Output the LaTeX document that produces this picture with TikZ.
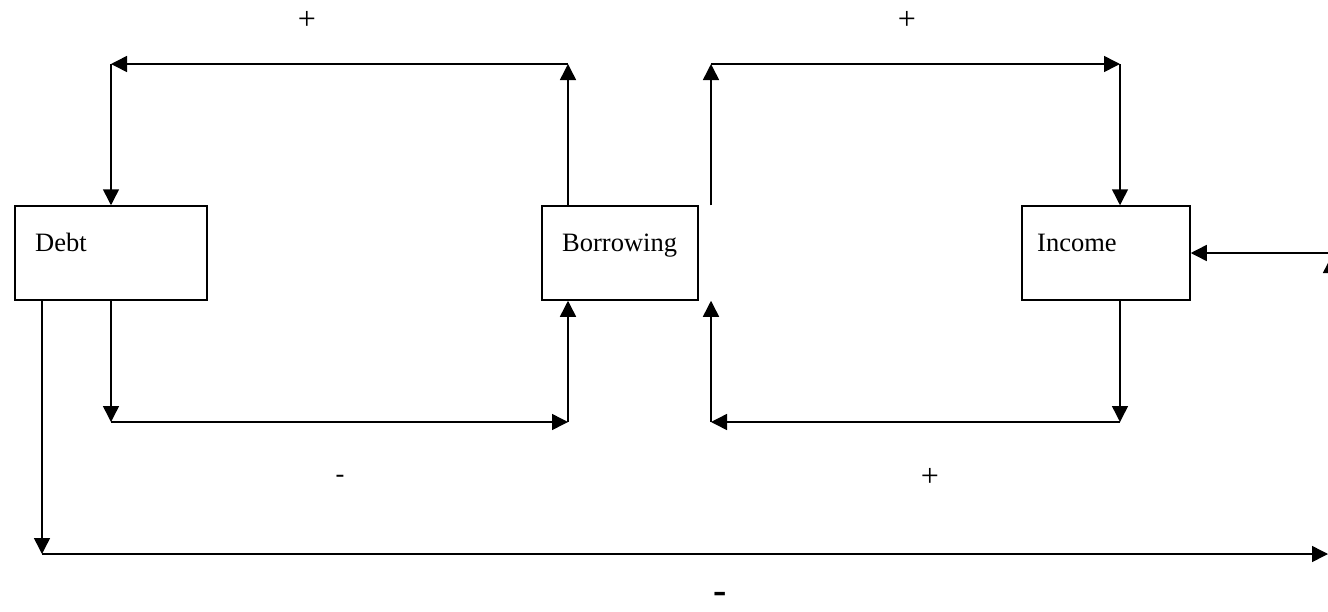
\documentclass[tikz,border=0pt]{standalone}
\usepackage{fontspec}
\setmainfont{Liberation Serif}
\usetikzlibrary{arrows.meta}
\begin{document}
\begin{tikzpicture}[x=1pt,y=-1pt,
  box/.style={draw, line width=1.5pt, inner sep=0pt},
  arr/.style={line width=1.5pt, -{Triangle[length=16pt,width=16pt]}},
  lbl/.style={font=\fontsize{26.5}{30}\selectfont, inner sep=0pt},
  sign/.style={font=\fontsize{32}{36}\selectfont, inner sep=0pt}]
\useasboundingbox (0,0) rectangle (1328,611);
% boxes
\node[box, minimum width=192pt, minimum height=94pt] (debt) at (111,253) {};
\node[box, minimum width=156pt, minimum height=94pt] (borrow) at (620,253) {};
\node[box, minimum width=168pt, minimum height=94pt] (income) at (1106,253) {};
\node[lbl, anchor=base west] (tdebt) at (35,251) {Debt};
\node[lbl, anchor=base west] (tborrow) at (562,251) {Borrowing};
\node[lbl, anchor=base west] (tincome) at (1037,251) {Income};
% corner coordinates
\coordinate (tl1) at (568,64);
\coordinate (tl2) at (111,64);
\coordinate (tr1) at (711,64);
\coordinate (tr2) at (1120,64);
\coordinate (bl1) at (111,422);
\coordinate (bl2) at (568,422);
\coordinate (br1) at (1120,422);
\coordinate (br2) at (711,422);
\coordinate (b1) at (42,554);
\coordinate (b2) at (1328,554);
\coordinate (ext) at (1328,253);
\coordinate (cut1) at (1331,285);
\coordinate (cut2) at (1331,257);
% top left loop
\draw[arr] (borrow.north -| tl1) -- (tl1);
\draw[arr] (tl1) -- (tl2);
\draw[arr] (tl2) -- (debt.north -| tl2);
% top right loop
\draw[arr] (borrow.north -| tr1) -- (tr1);
\draw[arr] (tr1) -- (tr2);
\draw[arr] (tr2) -- (income.north -| tr2);
% bottom left loop
\draw[arr] (debt.south -| bl1) -- (bl1);
\draw[arr] (bl1) -- (bl2);
\draw[arr] (bl2) -- (borrow.south -| bl2);
% bottom right loop
\draw[arr] (income.south -| br1) -- (br1);
\draw[arr] (br1) -- (br2);
\draw[arr] (br2) -- (borrow.south -| br2);
% long bottom
\draw[arr] (debt.south -| b1) -- (b1);
\draw[arr] (b1) -- (b2);
% external into income
\draw[arr] (ext) -- (income.east);
\draw[arr] (cut1) -- (cut2);
% signs
\node[sign] (p1) at (307,20) {+};
\node[sign] (p2) at (907,20) {+};
\node[lbl] (m1) at (340,479) {-};
\node[sign] (p3) at (930,477) {+};
\node[inner sep=0pt, font=\fontsize{40}{44}\selectfont\bfseries] (m2) at (720,598) {-};
\end{tikzpicture}
\end{document}
